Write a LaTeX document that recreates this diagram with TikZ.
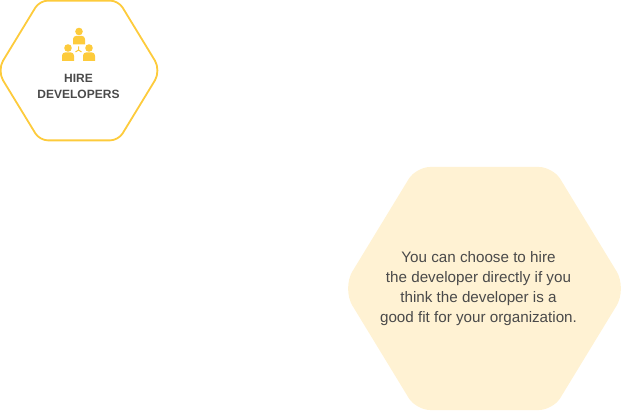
\documentclass[tikz,border=0pt]{standalone}
\usepackage{fontspec}
\setmainfont{Liberation Sans}
\usepackage{xcolor}
\definecolor{hexline}{HTML}{FDCB3C}
\definecolor{hexfill}{HTML}{FFF2D3}
\definecolor{textgrey}{HTML}{4A4A4A}
\newcommand{\hexpath}{(-132.1,-17.1) -- (-75.8,-109.5) .. controls (-71.8,-116.1) and (-62.2,-121.5) .. (-54.5,-121.5)
  -- (54.5,-121.5) .. controls (62.2,-121.5) and (71.8,-116.1) .. (75.8,-109.5)
  -- (132.1,-17.1) .. controls (137.8,-7.7) and (137.8,7.7) .. (132.1,17.1)
  -- (75.8,109.5) .. controls (71.8,116.1) and (62.2,121.5) .. (54.5,121.5)
  -- (-54.5,121.5) .. controls (-62.2,121.5) and (-71.8,116.1) .. (-75.8,109.5)
  -- (-132.1,17.1) .. controls (-137.8,7.7) and (-137.8,-7.7) .. (-132.1,-17.1) -- cycle}
\begin{document}
\begin{tikzpicture}[
  x=1pt, y=-1pt,
  outline/.style={draw=hexline, line width=1.8pt},
  solid hex/.style={fill=hexfill},
  person/.style={fill=hexline},
  title/.style={align=center, font=\bfseries\fontsize{12}{16}\selectfont, text=textgrey},
  body/.style={align=center, font=\fontsize{15.2}{20}\selectfont, text=textgrey}
]
  \useasboundingbox (0,0) rectangle (621,411);
  \draw[outline, shift={(79,70.5)}, scale=.575] \hexpath;
  \fill[solid hex, shift={(484.5,288.5)}] \hexpath;
  % people icon
  \foreach \px/\py in {79/31.5, 68/48, 89/48} {
    \fill[person] (\px,\py) circle (3.8);
    \fill[person] (\px-6,\py+13) -- (\px-6,\py+8) [rounded corners=2.5pt] -- (\px-5.5,\py+4.5) -- (\px+5.5,\py+4.5) [sharp corners] -- (\px+6,\py+8) -- (\px+6,\py+13) -- cycle;
  }
  \draw[hexline, line width=1pt] (78.5,46.5) -- (78.5,50) (75.5,52) -- (78.5,50) -- (81.5,52);
  \node[title] (hire) at (78.5,86.5) {HIRE\\DEVELOPERS};
  \node[body] (choose) at (478.5,289) {You can choose to hire\\the developer directly if you\\think the developer is a\\good fit for your organization.};
\end{tikzpicture}
\end{document}
